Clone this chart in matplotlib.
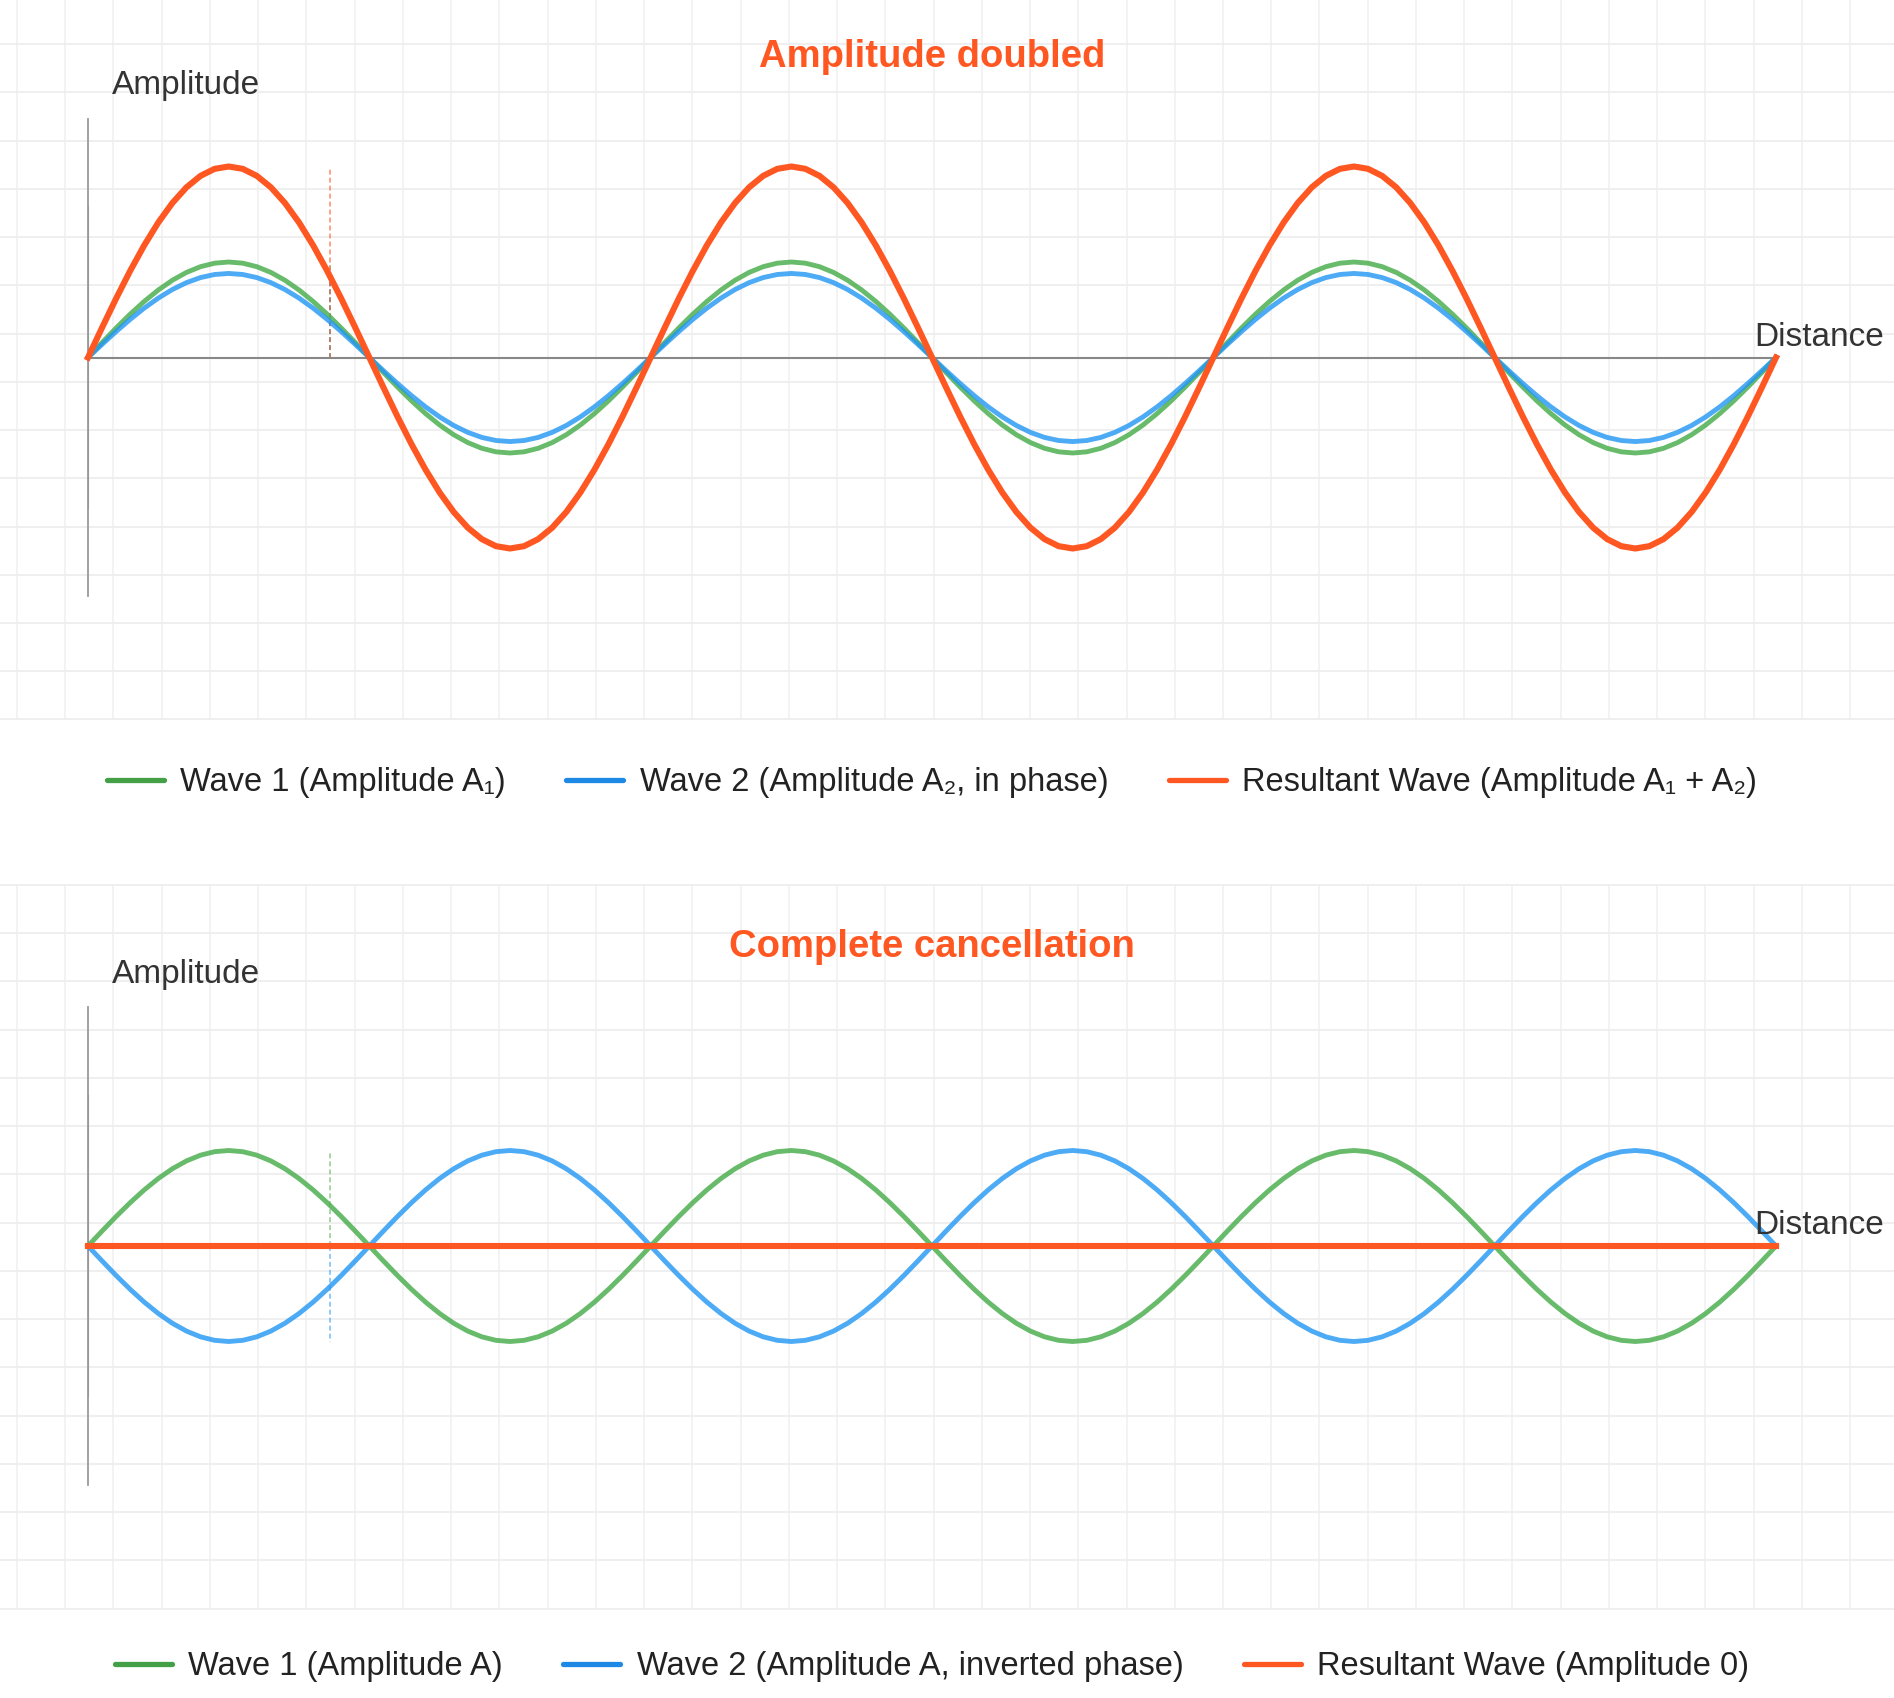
import numpy as np
import matplotlib.pyplot as plt
from matplotlib.lines import Line2D

plt.rcParams['font.family'] = ['Liberation Sans', 'DejaVu Sans']

# ---- data ----
cycles = 3                      # full wavelengths shown
samples = 121                   # points per curve
axis_half = 2.5                 # half-length of the amplitude axis (in units of A)
marker_x = 2.7                  # where the dashed amplitude markers sit (radians)

titles = ["Amplitude doubled", "Complete cancellation"]

# amplitudes of wave 1, wave 2, resultant
top_amps = [1.0, 0.88, 2.0]
bottom_amps = [1.0, -1.0, 0.0]

top_labels = ["Wave 1 (Amplitude A\u2081)",
              "Wave 2 (Amplitude A\u2082, in phase)",
              "Resultant Wave (Amplitude A\u2081 + A\u2082)"]
bottom_labels = ["Wave 1 (Amplitude A)",
                 "Wave 2 (Amplitude A, inverted phase)",
                 "Resultant Wave (Amplitude 0)"]

# ---- styles ----
line_colors = ['#4CAF50', '#2196F3', '#FF5722']
line_alpha = [0.85, 0.8, 1.0]
line_widths = [3.5, 3.5, 4.4]
legend_colors = ['#43A047', '#1E88E5', '#FF5722']
marker_alpha = [0.5, 0.5, 0.55]

W, H = 1894, 1698
DPI = 100


def px_rect(x0, y_top, x1, y_bot):
    # pixel box (origin top-left) -> figure fraction rect
    return [x0 / W, 1 - y_bot / H, (x1 - x0) / W, (y_bot - y_top) / H]


def draw_grid(bg, y0, y1, first_h):
    step = 48.24
    xs = 17 + step * np.arange(0, 40)
    xs = xs[xs < W]
    ys = first_h + step * np.arange(0, 20)
    ys = ys[ys <= y1 + 1]
    bg.vlines(xs, y0, y1, color='#f0f0f0', lw=1.1)
    bg.hlines(ys, 0, W, color='#eeeeee', lw=1.3)


def draw_panel(fig, rect, amps, labels, title, legend_y, title_y):
    ax = fig.add_axes(rect)
    ax.patch.set_alpha(0)
    x = np.linspace(0, cycles * 2 * np.pi, samples)
    ax.set_xlim(0, cycles * 2 * np.pi)
    ax.set_ylim(-axis_half, axis_half)

    # axes lines through the origin
    for side in ['top', 'right']:
        ax.spines[side].set_visible(False)
    ax.spines['left'].set_position(('data', 0))
    ax.spines['bottom'].set_position(('data', 0))
    ax.spines['left'].set_color('#9a9a9a')
    ax.spines['bottom'].set_color('#888888')
    ax.spines['left'].set_linewidth(1.3)
    ax.spines['bottom'].set_linewidth(1.5)
    ax.plot([0, 0], [-np.pi / 2, np.pi / 2], color='#888888', lw=1.5, zorder=1)
    ax.set_xticks([])
    ax.set_yticks([])

    # dashed amplitude markers
    for amp, c, a in zip(amps, line_colors, marker_alpha):
        if amp != 0:
            ax.plot([marker_x, marker_x], [0, amp], color=c, alpha=a, lw=1.4,
                    linestyle=(0, (2.5, 1.6)), zorder=2)

    # waves
    for amp, c, a, lw in zip(amps, line_colors, line_alpha, line_widths):
        ax.plot(x, amp * np.sin(x), color=c, alpha=a, lw=lw, clip_on=False, zorder=3)

    ax.text(0.5, title_y, title, transform=ax.transAxes, ha='center', va='baseline',
            fontsize=27.5, fontweight='bold', color='#FF5722')
    ax.annotate("Amplitude", xy=(0, axis_half), xytext=(24, 24.5),
                textcoords='offset pixels', ha='left', va='baseline',
                fontsize=24, color='#333333')
    ax.annotate("Distance", xy=(cycles * 2 * np.pi, 0), xytext=(-22, 12),
                textcoords='offset pixels', ha='left', va='baseline',
                fontsize=24, color='#333333')

    handles = [Line2D([0], [0], color=c, lw=3.8, solid_capstyle='round')
               for c in legend_colors]
    ax.legend(handles, labels, loc='center', bbox_to_anchor=(0.5, legend_y),
              ncol=3, frameon=False, fontsize=23.5, handlelength=1.75,
              handletextpad=0.5, columnspacing=1.85, labelcolor='#222222')
    return ax


fig = plt.figure(figsize=(W / DPI, H / DPI), dpi=DPI)

bg = fig.add_axes([0, 0, 1, 1])
bg.set_xlim(0, W)
bg.set_ylim(H, 0)
bg.axis('off')
draw_grid(bg, 0, 719.5, 44.1)
draw_grid(bg, 885, 1609, 885)

unit = 95.5
top_zero, bottom_zero = 357.5, 1246
x_left, x_right = 88, 1776
half = axis_half * unit

top_rect = px_rect(x_left, top_zero - half, x_right, top_zero + half)
bottom_rect = px_rect(x_left, bottom_zero - half, x_right, bottom_zero + half)

draw_panel(fig, top_rect, top_amps, top_labels, titles[0],
           legend_y=-(783 - (top_zero + half)) / (2 * half),
           title_y=1 + (top_zero - half - 67) / (2 * half))
draw_panel(fig, bottom_rect, bottom_amps, bottom_labels, titles[1],
           legend_y=-(1667 - (bottom_zero + half)) / (2 * half),
           title_y=1 + (bottom_zero - half - 957) / (2 * half))

fig.savefig('out.png', dpi=DPI)
